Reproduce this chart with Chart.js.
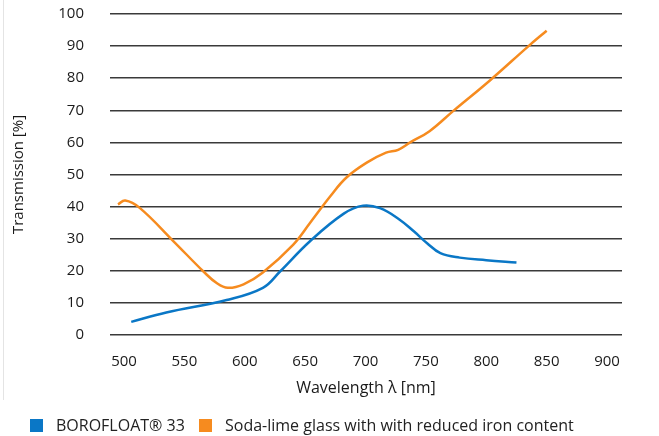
<!DOCTYPE html>
<html>
<head>
<meta charset="utf-8">
<title>Transmission</title>
<script src="https://cdn.jsdelivr.net/npm/chart.js@4/dist/chart.umd.min.js"></script>
<style>
    html, body { margin: 0; padding: 0; background: #fff; }
    #wrap { position: relative; width: 659px; height: 436px; font-family: 'Open Sans', sans-serif; }
    #edge { position: absolute; left: 3px; top: 0; width: 1px; height: 400px; background: #e4e4e4; }
    .key { position: absolute; top: 416px; display: flex; align-items: center; font-size: 16px; color: #222; line-height: 18px; white-space: nowrap; }
    .key i { display: inline-block; width: 13px; height: 13px; margin-right: 13px; }
</style>
</head>
<body>
<div id="wrap">
    <div id="edge"></div>
    <canvas id="chart" width="659" height="436"></canvas>
    <div id="legend"></div>
</div>
<script>
// Wavelength axis labels
const xTicks = [500, 550, 600, 650, 700, 750, 800, 850, 900];

// BOROFLOAT 33
const borofloatWl = [506, 535, 585, 615, 629, 654, 682, 698, 712, 728, 740, 751, 762, 778, 800, 825];
const borofloatT  = [4.1, 7.0, 10.9, 14.7, 19.7, 29.2, 37.8, 40.3, 39.5, 36.0, 32.3, 28.6, 25.5, 24.1, 23.3, 22.6];

// Soda-lime glass with reduced iron content
const sodaWl = [495, 501, 513, 541, 566, 577, 586, 599, 615, 640, 654, 671, 684, 701, 717, 727, 737, 753, 773, 803, 835, 850];
const sodaT  = [40.7, 41.9, 39.6, 29.2, 19.7, 16.1, 14.7, 15.8, 19.5, 28.1, 34.9, 43.3, 49.0, 53.7, 56.8, 57.7, 60.0, 63.5, 69.9, 79.3, 90.0, 94.8];

const seriesNames = ['BOROFLOAT® 33', 'Soda-lime glass with with reduced iron content'];
const seriesColors = ['#0a77c6', '#f68b1f'];

const toPoints = (xs, ys) => xs.map((x, i) => ({ x: x, y: ys[i] }));

const FONT = "'Open Sans', sans-serif";
Chart.defaults.font.family = FONT;
Chart.defaults.color = '#1a1a1a';

const lineStyle = i => ({
    label: seriesNames[i],
    borderColor: seriesColors[i],
    backgroundColor: seriesColors[i],
    borderWidth: 2.5,
    pointRadius: 0,
    tension: 0.4
});

const chart = new Chart(document.getElementById('chart'), {
    type: 'line',
    data: {
        datasets: [
            Object.assign({ data: toPoints(borofloatWl, borofloatT) }, lineStyle(0)),
            Object.assign({ data: toPoints(sodaWl, sodaT) }, lineStyle(1))
        ]
    },
    options: {
        responsive: false,
        animation: false,
        layout: { padding: { left: 3, right: 37, top: 14, bottom: 38 } },
        scales: {
            x: {
                type: 'linear',
                min: 488.4,
                max: 912.4,
                afterBuildTicks: axis => { axis.ticks = xTicks.map(v => ({ value: v })); },
                grid: { display: false },
                border: { display: false },
                ticks: { font: { size: 15 }, padding: 10, maxRotation: 0, autoSkip: false },
                title: { display: true, text: 'Wavelength λ [nm]', font: { size: 16 }, padding: { top: 0, bottom: 0 } },
                afterFit: scale => { scale.height = 63; }
            },
            y: {
                min: 0,
                max: 100,
                // invisible tick marks keep the labels clear of the grid
                ticks: { stepSize: 10, font: { size: 15 }, padding: 0 },
                grid: { color: '#3a3a3a', lineWidth: 1.5, drawTicks: true, tickLength: 26, tickColor: 'rgba(0,0,0,0)' },
                border: { display: false },
                title: { display: true, text: 'Transmission [%]', font: { size: 15 }, padding: { top: 7, bottom: 0 } },
                afterFit: scale => { scale.width = 107; }
            }
        },
        plugins: {
            legend: { display: false },
            tooltip: { enabled: false }
        }
    }
});

// Legend keys below the plot
const legendEl = document.getElementById('legend');
const keyLeft = [30, 199];
chart.data.datasets.forEach((ds, i) => {
    const key = document.createElement('div');
    key.className = 'key';
    key.style.left = keyLeft[i] + 'px';
    key.innerHTML = '<i style="background:' + ds.borderColor + '"></i>' + ds.label;
    legendEl.appendChild(key);
});
</script>
</body>
</html>
